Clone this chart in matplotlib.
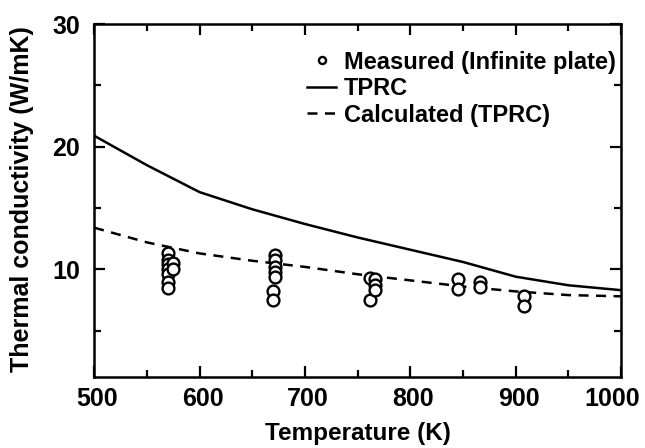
import matplotlib
matplotlib.use("Agg")
import matplotlib.pyplot as plt
import matplotlib.transforms as mtransforms
from matplotlib.ticker import MultipleLocator, NullFormatter

plt.rcParams['font.family'] = ['Liberation Sans', 'DejaVu Sans']
plt.rcParams['font.weight'] = 'bold'

# TPRC curve
tprc_T = [500, 550, 600, 650, 700, 750, 800, 850, 900, 950, 1000]
tprc_k = [20.9, 18.5, 16.3, 14.9, 13.7, 12.6, 11.6, 10.6, 9.4, 8.7, 8.3]

# Calculated (TPRC)
calc_T = [500, 550, 600, 650, 700, 750, 800, 850, 900, 950, 1000]
calc_k = [13.4, 12.2, 11.3, 10.7, 10.2, 9.6, 9.1, 8.6, 8.2, 7.9, 7.8]

# Measured (Infinite plate)
meas_T = [570, 570, 570, 570, 570, 570, 570, 575, 575,
          672, 672, 672, 672, 672, 670, 670,
          762, 762, 766, 766, 766,
          845, 845, 866, 866, 908, 908]
meas_k = [11.3, 10.8, 10.4, 10.0, 9.6, 9.0, 8.5, 10.5, 10.0,
          11.2, 10.8, 10.2, 9.8, 9.4, 8.2, 7.5,
          9.3, 7.5, 9.2, 8.7, 8.3,
          9.2, 8.4, 9.0, 8.6, 7.8, 7.0]

xtick_vals = [500, 600, 700, 800, 900, 1000]
xtick_labels = ['500', '600', '700', '800', '900', '1000']

fig = plt.figure(figsize=(6.45, 4.48), dpi=100)
ax = fig.add_axes([0.146, 0.158, 0.817, 0.788])

ax.plot(meas_T, meas_k, 'o', mfc='white', mec='black', ms=8.5, mew=1.7,
        linestyle='none', label='Measured (Infinite plate)', zorder=3)
ax.plot(tprc_T, tprc_k, '-', color='black', lw=1.8, label='TPRC')
ax.plot(calc_T, calc_k, '--', color='black', lw=1.8, dashes=(4, 3),
        label='Calculated (TPRC)')

ax.set_xlim(500, 1000)
ax.set_ylim(1.2, 30)
ax.set_xticks(xtick_vals)
ax.xaxis.set_major_formatter(NullFormatter())
ax.xaxis.set_minor_locator(MultipleLocator(50))
ax.yaxis.set_major_locator(MultipleLocator(10))
ax.yaxis.set_minor_locator(MultipleLocator(5))
ax.tick_params(which='both', direction='in', top=True, right=True, width=1.6,
               labelsize=18)
ax.tick_params(axis='y', pad=10)
ax.tick_params(which='major', length=8)
ax.tick_params(which='minor', length=5)
for s in ax.spines.values():
    s.set_linewidth(1.8)

# x tick labels (last one nudged left so it stays inside the figure)
xtrans = ax.get_xaxis_transform()
for i, (v, s) in enumerate(zip(xtick_vals, xtick_labels)):
    dx = -9 if i == len(xtick_vals) - 1 else 3
    tr = xtrans + mtransforms.ScaledTranslation(dx / 100, -22 / 100,
                                                fig.dpi_scale_trans)
    ax.text(v, 0, s, transform=tr, ha='center', va='center',
            fontsize=18, fontweight='bold', clip_on=False)

ax.set_xlabel('Temperature (K)', fontsize=17.5, fontweight='bold')
ax.xaxis.label.set_va('center')
ax.xaxis.set_label_coords(0.5, -0.160)
ax.set_ylabel('Thermal conductivity (W/mK)', fontsize=18, fontweight='bold')
ax.yaxis.label.set_va('center')
ax.yaxis.set_label_coords(-0.137, 0.505)

leg = ax.legend(loc='upper right', bbox_to_anchor=(0.99, 0.925),
                frameon=False, borderpad=0, borderaxespad=0,
                prop={'size': 17, 'weight': 'bold'},
                handlelength=1.2, handletextpad=0.35, labelspacing=0.15,
                markerscale=0.6)

fig.savefig('out.png', dpi=100)
